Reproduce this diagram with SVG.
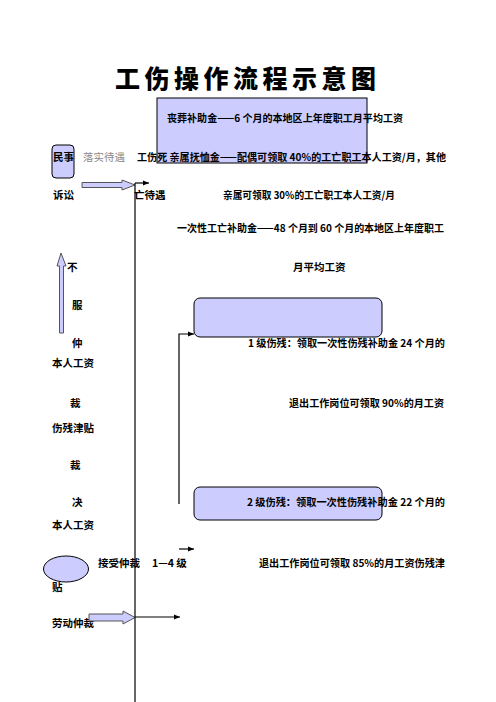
<svg xmlns="http://www.w3.org/2000/svg" width="496" height="702" viewBox="0 0 496 702">
<defs>
<marker id="ah" viewBox="0 0 10 10" refX="10" refY="5" markerWidth="6" markerHeight="6" orient="auto" markerUnits="userSpaceOnUse"><path d="M0,1 L10,5 L0,9 Z" fill="#000"/></marker>
<style>
text{font-family:"Noto Sans CJK SC","Liberation Sans",sans-serif;font-size:10.5px;font-weight:bold;fill:#000}
.title{font-size:25px;font-weight:900;letter-spacing:4.5px}
.gray{font-weight:normal;fill:#8a8a8a}
.box{fill:#ccccff;stroke:#000;stroke-width:1}
.blk{fill:#ccccff;stroke:#555;stroke-width:1}
.ln{fill:none;stroke:#000;stroke-width:1.2}
</style>
</defs>
<rect width="496" height="702" fill="#fff"/>
<text class="title" x="115" y="88">工伤操作流程示意图</text>

<g id="box-funeral"><rect class="box" x="157" y="98" width="210" height="65"/>
<text x="167" y="122" textLength="236" lengthAdjust="spacingAndGlyphs">丧葬补助金——6 个月的本地区上年度职工月平均工资</text></g>

<g id="node-civil"><rect class="box" x="52" y="145" width="22" height="33" rx="4"/><text x="53" y="161">民事</text></g>
<text class="gray" x="83" y="161">落实待遇</text>
<text x="137" y="161" textLength="309" lengthAdjust="spacingAndGlyphs">工伤死 亲属抚恤金——配偶可领取 40%的工亡职工本人工资/月，其他</text>
<text x="53" y="199">诉讼</text>
<text x="134" y="199">亡待遇</text>
<text x="223" y="199" textLength="172" lengthAdjust="spacingAndGlyphs">亲属可领取 30%的工亡职工本人工资/月</text>
<text x="177" y="232" textLength="267" lengthAdjust="spacingAndGlyphs">一次性工亡补助金——48 个月到 60 个月的本地区上年度职工</text>
<text x="293" y="271">月平均工资</text>

<text x="67" y="271">不</text>
<text x="72" y="309">服</text>
<text x="72" y="347">仲</text>
<text x="52" y="367">本人工资</text>
<text x="70" y="407">裁</text>
<text x="52" y="432">伤残津贴</text>
<text x="70" y="469">裁</text>
<text x="72" y="506">决</text>
<text x="52" y="529">本人工资</text>

<g id="box-level1"><rect class="box" x="194" y="298" width="188" height="39" rx="6"/></g>
<text x="248" y="347" textLength="197" lengthAdjust="spacingAndGlyphs">1 级伤残：领取一次性伤残补助金 24 个月的</text>
<text x="289" y="407" textLength="155" lengthAdjust="spacingAndGlyphs">退出工作岗位可领取 90%的月工资</text>

<g id="box-level2"><rect class="box" x="194" y="487" width="188" height="33" rx="6"/>
<text x="247" y="506" textLength="198" lengthAdjust="spacingAndGlyphs">2 级伤残：领取一次性伤残补助金 22 个月的</text></g>

<g id="node-accept"><ellipse class="box" cx="66" cy="569" rx="22.5" ry="13"/></g>
<text x="98" y="567">接受仲裁</text>
<text x="152" y="567">1—4 级</text>
<text x="259" y="567" textLength="186" lengthAdjust="spacingAndGlyphs">退出工作岗位可领取 85%的月工资伤残津</text>
<text x="52" y="591">贴</text>
<text x="52" y="627">劳动仲裁</text>

<g id="connectors">
<path class="blk" d="M82,182.5 L122,182.5 L122,180 L135,185 L122,190 L122,187.5 L82,187.5 Z"/>
<path class="blk" d="M61,253 L66,266 L63.5,266 L63.5,333 L59.5,333 L59.5,266 L57,266 Z"/>
<path class="blk" d="M89,614 L123,614 L123,611 L135,617.5 L123,624 L123,621 L89,621 Z"/>
<line class="ln" x1="135" y1="183" x2="135" y2="702"/>
<line class="ln" x1="135" y1="183" x2="149" y2="183" marker-end="url(#ah)"/>
<path class="ln" d="M179,504 L179,334 L194,334" marker-end="url(#ah)"/>
<line class="ln" x1="179" y1="549" x2="194" y2="549" marker-end="url(#ah)"/>
<line class="ln" x1="135" y1="617" x2="180" y2="617" marker-end="url(#ah)"/>
</g>
</svg>
